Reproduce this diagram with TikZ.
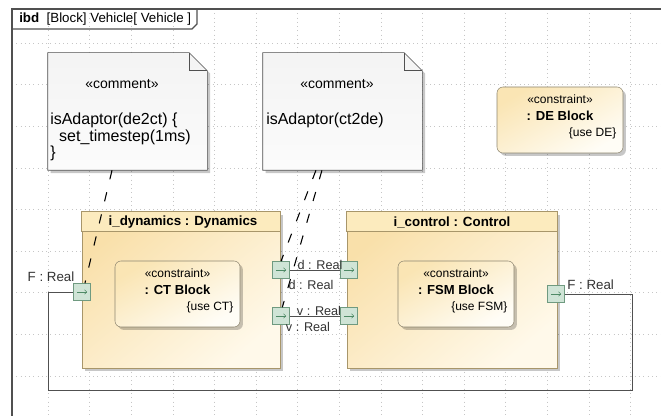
\documentclass[tikz,border=0pt]{standalone}
\usepackage{fontspec}
\setmainfont{Liberation Sans}
\usetikzlibrary{arrows.meta,shadows}
\definecolor{frameedge}{HTML}{505050}
\definecolor{blockedge}{HTML}{A8966A}
\definecolor{blocktop}{HTML}{F9E0AA}
\definecolor{blockbot}{HTML}{FFF9EA}
\definecolor{headfill}{HTML}{FCEBBE}
\definecolor{cedge}{HTML}{8E8670}
\definecolor{ctop}{HTML}{FAE5B4}
\definecolor{cbot}{HTML}{FFFDF6}
\definecolor{portedge}{HTML}{6F9A80}
\definecolor{portfill}{HTML}{CFE4D6}
\definecolor{portarrow}{HTML}{4F8A66}
\begin{document}
\begin{tikzpicture}[x=0.75pt,y=-0.75pt]
\tikzset{gridline/.style={gray!45,line width=.4pt,dash pattern=on .6pt off 2.6pt}}
\tikzset{shade/.style={drop shadow={shadow xshift=2.2pt,shadow yshift=-2.2pt,fill=black,opacity=.22}}}
\tikzset{note/.style={minimum width=119.25pt,minimum height=87.75pt,inner sep=0pt}}
\tikzset{notebox/.style={draw=frameedge,top color=gray!9,bottom color=gray!3,shade}}
\tikzset{part/.style={draw=blockedge,top color=blocktop,bottom color=blockbot,shading angle=40,minimum height=117pt,inner sep=0pt,shade}}
\tikzset{cblock/.style={draw=cedge,rounded corners=4.5pt,top color=ctop,bottom color=cbot,shading angle=30,minimum height=49.5pt,inner sep=0pt,shade}}
\tikzset{port/.style={draw=portedge,fill=portfill,minimum size=12.75pt,inner sep=0pt,
  path picture={\draw[portarrow,-{To[length=2pt,width=3.5pt]}] ([xshift=-3.8pt]path picture bounding box.center) -- ([xshift=3.8pt]path picture bounding box.center);}}}
\tikzset{flow/.style={draw=frameedge,line width=.7pt}}
\tikzset{anchorline/.style={line width=.8pt,dash pattern=on 7pt off 10pt}}
\tikzset{lbl/.style={inner sep=0pt,font=\fontsize{10}{12}\selectfont,text=black!80}}
\tikzset{sig/.style={inner sep=0pt,font=\fontsize{9.5}{11}\selectfont,text=black!80}}
\tikzset{stereo/.style={inner sep=0pt,font=\fontsize{9}{11}\selectfont}}
\tikzset{cname/.style={inner sep=0pt,font=\fontsize{9.8}{12}\selectfont\bfseries}}
\useasboundingbox (0,0) rectangle (661,416);
\fill[white] (0,0) rectangle (661,416);
\foreach \i in {0,...,14}
	\draw[gridline] (48+41.6*\i,9) -- (48+41.6*\i,416);
\foreach \j in {0,...,8}
	\draw[gridline] (12,43+41.6*\j) -- (661,43+41.6*\j);
\draw[frameedge,line width=.8pt] (12,416) -- (12,9) -- (661,9);
\node[inner sep=0pt,anchor=west,font=\fontsize{10}{12}\selectfont] (tab) at (19,19.5) {\textbf{ibd}\ \ [Block] Vehicle[ Vehicle ]};
\draw[frameedge,line width=.8pt] (12,29) -- (192,29) -- (197,24) -- (197,9);
\node[note] (c1) at (127.5,111.5) {};
\node[note] (c2) at (342.5,111.5) {};
\foreach \c in {c1,c2}
	\draw[notebox] (\c.south west) -- (\c.north west) -- ([xshift=-13.5pt]\c.north east) -- ([yshift=-13.5pt]\c.north east) -- (\c.south east) -- cycle;
\foreach \c in {c1,c2}
	\draw[frameedge] ([xshift=-13.5pt]\c.north east) -- ([xshift=-13.5pt,yshift=-13.5pt]\c.north east) -- ([yshift=-13.5pt]\c.north east);
\node[lbl,font=\fontsize{10.5}{12}\selectfont,text=black] (c1s) at (122,84) {«comment»};
\node[lbl,font=\fontsize{10.5}{12}\selectfont,text=black] (c2s) at (337,84) {«comment»};
\node[lbl,font=\fontsize{12}{12.4}\selectfont,text=black,anchor=north west,align=left] (c1t) at (50,113) {isAdaptor(de2ct) \{\\\ \ set\_timestep(1ms)\\\}};
\node[lbl,font=\fontsize{12}{12.4}\selectfont,text=black,anchor=north west] (c2t) at (266,113) {isAdaptor(ct2de)};
\node[part,minimum width=148.5pt] (dyn) at (181,290) {};
\node[part,minimum width=157.5pt] (ctl) at (452,290) {};
\foreach \b in {dyn,ctl}
	\draw[blockedge,fill=headfill] (\b.north west) rectangle ([yshift=-15pt]\b.north east);
\node[cname,font=\fontsize{10}{12}\selectfont\bfseries] (dynh) at (183,222) {i\_dynamics : Dynamics};
\node[cname,font=\fontsize{10}{12}\selectfont\bfseries] (ctlh) at (452,222) {i\_control : Control};
\node[cblock,minimum width=93.75pt] (ct) at (177.5,294) {};
\node[cblock,minimum width=87pt] (fsm) at (456,294) {};
\node[cblock,minimum width=94.5pt] (de) at (560,120) {};
\foreach \n/\t/\u in {ct/CT Block/CT,fsm/FSM Block/FSM,de/DE Block/DE} {
	\node[stereo] (\n-s) at ([yshift=-9pt]\n.north) {«constraint»};
	\node[cname] (\n-n) at ([yshift=-22pt]\n.north) {: \t};
	\node[stereo,anchor=east] (\n-u) at ([xshift=-5pt,yshift=-35pt]\n.north east) {\{use \u\}};
}
\node[port] (pF) at (82,292) {};
\node[port] (pD1) at (281,270) {};
\node[port] (pV1) at (281,316) {};
\node[port] (pD2) at (349,270) {};
\node[port] (pV2) at (349,316) {};
\node[port] (pF2) at (556,294) {};
\coordinate (loopR) at (632,390);
\coordinate (loopL) at (48,390);
\foreach \from/\to in {pD1/pD2,pV1/pV2}
	\draw[flow] (\from) -- (\to);
\draw[flow] (pF2.east) -| (loopR) -- (loopL) |- (pF.west);
\draw[anchorline] ([xshift=-11.6pt]c1.south) -- ([xshift=2.2pt]pF.north);
\draw[anchorline] ([xshift=-19.9pt]c2.south) -- (pD1.north);
\draw[anchorline] ([xshift=-15.4pt]c2.south) -- ([xshift=1pt]pV1.north);
\node[lbl] (lF) at (51,277) {F : Real};
\node[lbl,anchor=west] (lF2) at (567,285) {F : Real};
\node[sig] (lD1) at (320,265) {d : Real};
\node[sig] (lD2) at (311,285) {d : Real};
\node[sig] (lV1) at (319,311) {v : Real};
\node[sig] (lV2) at (308,327) {v : Real};
\end{tikzpicture}
\end{document}
